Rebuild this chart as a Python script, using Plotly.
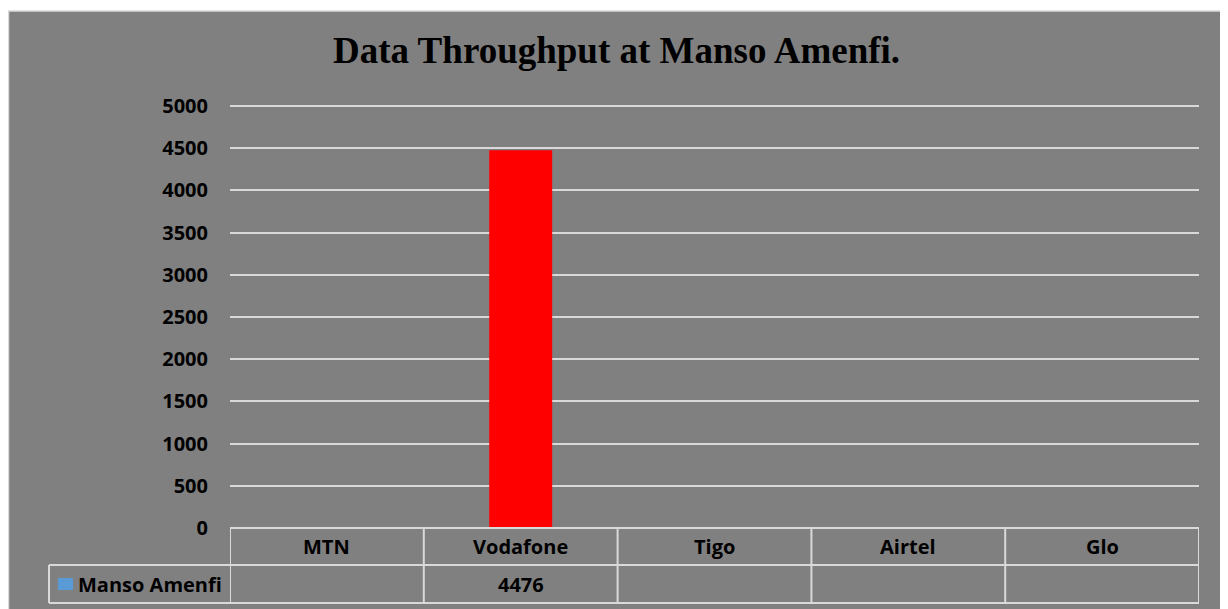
import plotly.graph_objects as go

W, H = 1228, 609

categories = ["MTN", "Vodafone", "Tigo", "Airtel", "Glo"]
series_name = "Manso Amenfi"
values = [None, 4476, None, None, None]
bar_colors = ["#5B9BD5", "#FF0000", "#5B9BD5", "#5B9BD5", "#5B9BD5"]
y_ticks = [0, 500, 1000, 1500, 2000, 2500, 3000, 3500, 4000, 4500, 5000]
title_text = "Data Throughput at Manso Amenfi."

OFF = 8  # page body margin


def px(x):
    return (x - OFF) / W


def py(y):
    return 1 - (y - OFF) / H


plot_left, plot_right = 230, 1199
plot_top, plot_bottom = 106, 528
y_max = 5100
plot_top_ext = plot_bottom - (plot_bottom - plot_top) * y_max / 5000
row1_bottom, row2_bottom = 565, 603
legend_left = 49
line_col = "#d9d9d9"
font_family = "Open Sans"

fig = go.Figure()
fig.add_trace(go.Bar(
    x=categories, y=values, name=series_name,
    marker=dict(color=bar_colors, line=dict(width=0)),
    showlegend=False,
))

shapes = []
# chart background
shapes.append(dict(type="rect", xref="paper", yref="paper",
                   x0=px(8.5), x1=px(1240), y0=py(620), y1=py(11),
                   fillcolor="#808080", line=dict(color=line_col, width=1.5),
                   layer="below"))
# table horizontal lines
shapes.append(dict(type="line", xref="paper", yref="paper",
                   x0=px(plot_left), x1=px(plot_right), y0=py(plot_bottom), y1=py(plot_bottom),
                   line=dict(color=line_col, width=2)))
for yy in (row1_bottom, row2_bottom):
    shapes.append(dict(type="line", xref="paper", yref="paper",
                       x0=px(legend_left), x1=px(plot_right), y0=py(yy), y1=py(yy),
                       line=dict(color=line_col, width=2)))
n = len(categories)
for k in range(n + 1):
    xv = k - 0.5
    shapes.append(dict(type="line", xref="x", yref="paper",
                       x0=xv, x1=xv, y0=py(plot_bottom), y1=py(row2_bottom),
                       line=dict(color=line_col, width=2)))
shapes.append(dict(type="line", xref="paper", yref="paper",
                   x0=px(legend_left), x1=px(legend_left), y0=py(row1_bottom), y1=py(row2_bottom),
                   line=dict(color=line_col, width=2)))
# legend key
shapes.append(dict(type="rect", xref="paper", yref="paper",
                   x0=px(58), x1=px(73), y0=py(590), y1=py(578),
                   fillcolor="#5B9BD5", line=dict(width=0)))

annotations = []
annotations.append(dict(text=title_text, xref="paper", yref="paper",
                        x=px(616), y=py(50), xanchor="center", yanchor="middle",
                        showarrow=False,
                        font=dict(family="Liberation Serif", size=37, color="#000000", weight="bold")))
hdr_y = py((plot_bottom + row1_bottom) / 2)
val_y = py((row1_bottom + row2_bottom) / 2)
for i, c in enumerate(categories):
    annotations.append(dict(text=c, xref="x", yref="paper", x=i, y=hdr_y,
                            xanchor="center", yanchor="middle", showarrow=False,
                            font=dict(family=font_family, size=20, color="#000000", weight="bold")))
    if values[i] is not None:
        annotations.append(dict(text=str(values[i]), xref="x", yref="paper", x=i, y=val_y,
                                xanchor="center", yanchor="middle", showarrow=False,
                                font=dict(family=font_family, size=20, color="#000000", weight="bold")))
annotations.append(dict(text=series_name, xref="paper", yref="paper", x=px(76), y=val_y,
                        xanchor="left", yanchor="middle", showarrow=False,
                        font=dict(family=font_family, size=20, color="#000000", weight="bold")))

fig.update_layout(
    width=W, height=H,
    margin=dict(l=0, r=0, t=0, b=0, autoexpand=False),
    paper_bgcolor="#ffffff",
    plot_bgcolor="rgba(0,0,0,0)",
    bargap=0.675,
    shapes=shapes,
    annotations=annotations,
    xaxis=dict(domain=[px(plot_left), px(plot_right)], showticklabels=False,
               showgrid=False, zeroline=False, showline=False, ticks="",
               automargin=False, range=[-0.5, n - 0.5]),
    yaxis=dict(domain=[py(plot_bottom), py(plot_top_ext)], range=[0, y_max],
               tickvals=y_ticks, ticktext=[str(v) for v in y_ticks],
               showgrid=True, gridcolor=line_col, gridwidth=2,
               zeroline=False, showline=False, ticks="", automargin=False,
               ticklabelstandoff=21,
               tickfont=dict(family=font_family, size=20, color="#000000", weight="bold")),
)

fig.write_html("out.html")
